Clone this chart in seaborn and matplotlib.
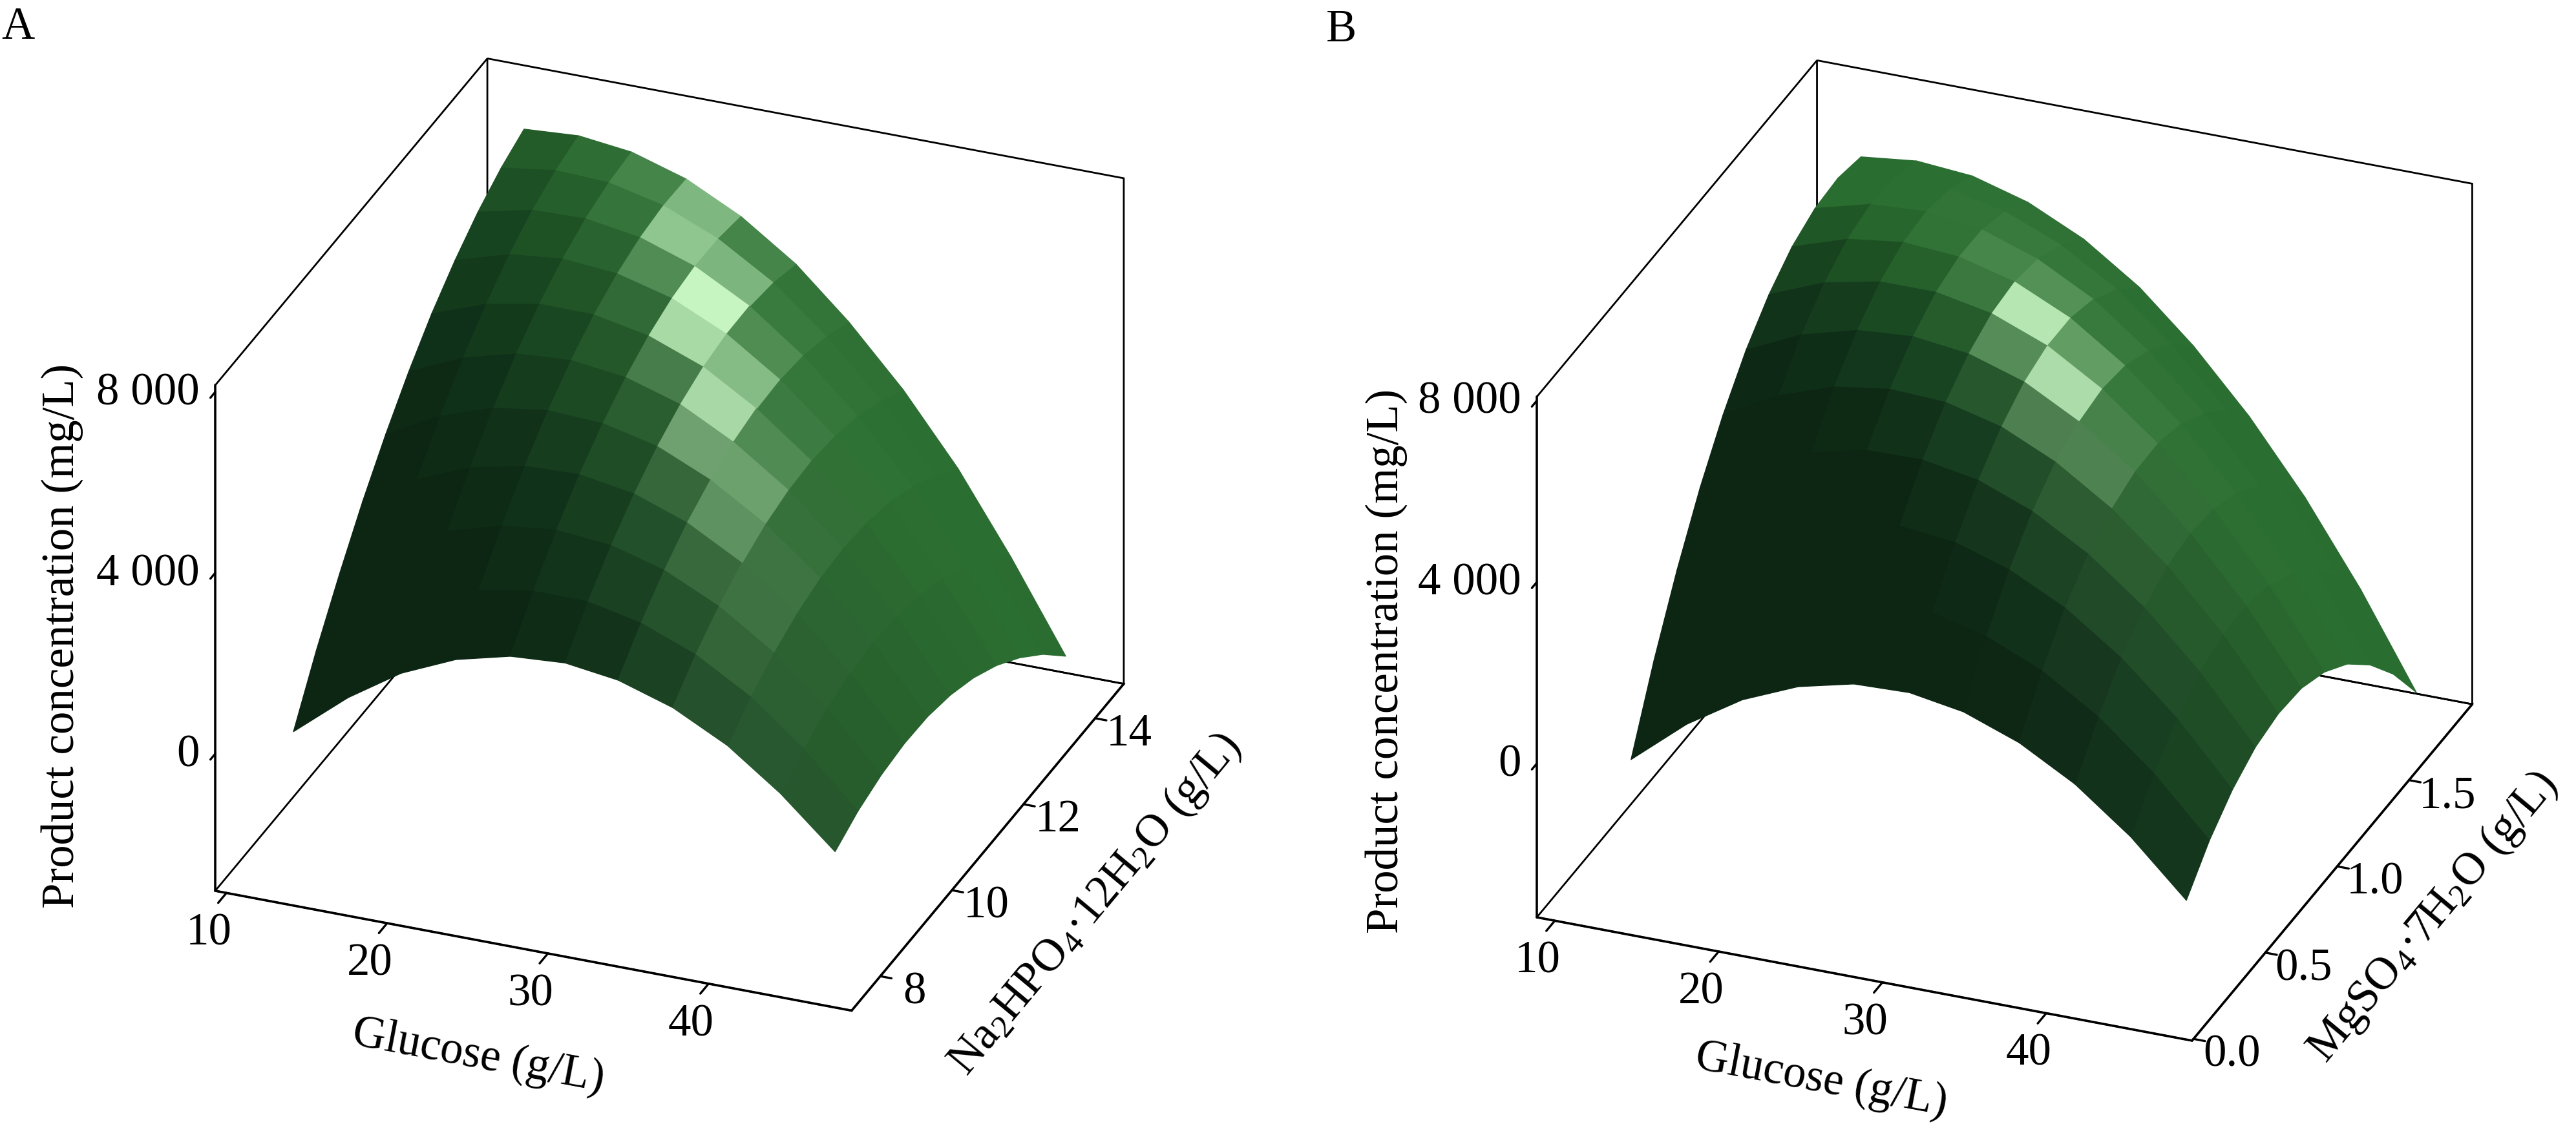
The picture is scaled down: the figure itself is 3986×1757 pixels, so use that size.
import numpy as np
import matplotlib
matplotlib.use("Agg")
import matplotlib.pyplot as plt
import seaborn as sns

# A: glucose x Na2HPO4.12H2O
glucose_a = [12.7, 16.1, 19.4, 22.8, 26.2, 29.6, 32.9, 36.3, 39.7, 43.0, 46.4]
phosphate_a = [7.86, 8.50, 9.15, 9.79, 10.44, 11.08, 11.72, 12.37, 13.01, 13.66, 14.30]
# rows = phosphate level, columns = glucose level (mg/L)
product_a = [
    [90, 1070, 1830, 2360, 2660, 2740, 2580, 2200, 1590, 750, -310],
    [1280, 2170, 2840, 3280, 3490, 3480, 3230, 2760, 2060, 1130, -20],
    [2360, 3170, 3740, 4090, 4220, 4110, 3780, 3210, 2420, 1410, 160],
    [3340, 4060, 4540, 4800, 4840, 4640, 4220, 3560, 2680, 1580, 240],
    [4220, 4840, 5240, 5410, 5350, 5070, 4550, 3810, 2840, 1640, 220],
    [4990, 5520, 5830, 5910, 5760, 5390, 4780, 3950, 2890, 1600, 90],
    [5660, 6100, 6320, 6310, 6070, 5610, 4910, 3990, 2840, 1460, -140],
    [6220, 6580, 6700, 6600, 6280, 5720, 4940, 3920, 2680, 1220, -480],
    [6680, 6950, 6980, 6790, 6380, 5730, 4860, 3750, 2420, 870, -920],
    [7040, 7210, 7160, 6880, 6370, 5640, 4670, 3480, 2060, 410, -1460],
    [7290, 7370, 7230, 6860, 6260, 5440, 4380, 3100, 1590, -150, -2110],
]

# B: glucose x MgSO4.7H2O
glucose_b = [12.9, 16.3, 19.7, 23.1, 26.5, 29.9, 33.2, 36.6, 40.0, 43.4, 46.8]
mgso4_b = [0.19, 0.35, 0.51, 0.67, 0.83, 0.99, 1.15, 1.31, 1.47, 1.63, 1.79]
product_b = [
    [-400, 610, 1380, 1900, 2190, 2230, 2030, 1580, 900, -30, -1200],
    [1180, 2100, 2780, 3220, 3410, 3370, 3080, 2550, 1780, 760, -490],
    [2560, 3400, 3990, 4340, 4450, 4320, 3940, 3330, 2470, 1370, 20],
    [3760, 4510, 5010, 5280, 5300, 5080, 4620, 3910, 2970, 1780, 350],
    [4760, 5420, 5840, 6020, 5960, 5650, 5100, 4310, 3280, 2000, 480],
    [5580, 6150, 6480, 6570, 6420, 6030, 5390, 4510, 3390, 2030, 430],
    [6200, 6690, 6940, 6940, 6700, 6220, 5500, 4530, 3320, 1870, 180],
    [6640, 7040, 7200, 7110, 6790, 6220, 5410, 4360, 3060, 1530, -250],
    [6880, 7200, 7270, 7100, 6680, 6030, 5130, 3990, 2610, 990, -880],
    [6940, 7160, 7150, 6890, 6390, 5650, 4660, 3440, 1970, 260, -1690],
    [6800, 6940, 6840, 6490, 5910, 5080, 4010, 2690, 1140, -660, -2700],
]

glucose_ticks = [10, 20, 30, 40]
phosphate_ticks = [8, 10, 12, 14]
phosphate_tick_labels = ["8", "10", "12", "14"]
mgso4_ticks = [0.0, 0.5, 1.0, 1.5]
mgso4_tick_labels = ["0.0", "0.5", "1.0", "1.5"]
product_ticks = [0, 4000, 8000]
product_tick_labels = ["0", "4 000", "8 000"]

# --- look ---
sns.set_theme(style="white", rc={
    "text.color": "black", "axes.labelcolor": "black",
    "xtick.color": "black", "ytick.color": "black",
})
plt.rcParams["font.family"] = ["Liberation Serif", "DejaVu Serif"]
plt.rcParams["mathtext.fontset"] = "custom"
plt.rcParams["mathtext.rm"] = "Liberation Serif"
plt.rcParams["mathtext.it"] = "Liberation Serif:italic"

FS = 51
ELEV, AZIM = 28.4, -68.4
ASPECT = (1.0, 1.08, 0.84)
# dark -> mid green for the diffuse part, pale green for the glossy spot
body_cmap = sns.blend_palette(["#0c2613", "#11331a", "#184620", "#205826", "#2a6d30"], as_cmap=True)
gloss = np.array(matplotlib.colors.to_rgb("#c6f5c2"))


def unit(v):
    v = np.asarray(v, float)
    return v / np.linalg.norm(v)


def surface_colours(X, Y, Z, lims):
    # per-quad shading in box units
    P = np.stack([(v - lo) / (hi - lo) * a for v, (lo, hi), a in zip((X, Y, Z), lims, ASPECT)], axis=-1)
    d1 = P[1:, 1:] - P[:-1, :-1]
    d2 = P[:-1, 1:] - P[1:, :-1]
    n = np.cross(d1, d2)
    n[n[..., 2] < 0] *= -1
    n /= np.linalg.norm(n, axis=-1, keepdims=True)
    e, a = np.radians(ELEV), np.radians(AZIM)
    view = np.array([np.cos(e) * np.cos(a), np.cos(e) * np.sin(a), np.sin(e)])
    diffuse = np.clip(n @ unit([0.10, 0.80, 0.59]), 0, 1)
    half = unit(unit([0.25, 0.73, 0.63]) + view)
    nh = np.clip(n @ half, 0, 1)
    spec = 0.95 * nh ** 120 + 0.16 * nh ** 18
    body = body_cmap(np.clip(diffuse / 0.55, 0, 1))[..., :3]
    k = np.clip(spec, 0, 1)[..., None]
    rgb = body * (1 - k) + gloss * k
    cols = np.ones(Z.shape + (4,))
    cols[:-1, :-1, :3] = rgb
    return cols


def draw_panel(ax, gx, gy, z, lims, yticks):
    X, Y = np.meshgrid(np.asarray(gx, float), np.asarray(gy, float))
    Z = np.asarray(z, float)
    ax.plot_surface(X, Y, Z, facecolors=surface_colours(X, Y, Z, lims), shade=False,
                    rstride=1, cstride=1, linewidth=1.0, antialiased=True)
    ax.set_proj_type("ortho")
    ax.view_init(elev=ELEV, azim=AZIM)
    ax.set_box_aspect(ASPECT)
    ax.set_xlim(*lims[0])
    ax.set_ylim(*lims[1])
    ax.set_zlim(*lims[2])
    ax.set_facecolor("none")
    ax.grid(False)
    # tick marks from matplotlib, their texts are set upright by annotate()
    ax.set_xticks(glucose_ticks, [""] * len(glucose_ticks))
    ax.set_yticks(yticks, [""] * len(yticks))
    ax.set_zticks(product_ticks, [""] * len(product_ticks))
    ax.zaxis.set_ticks_position("lower")
    for axis, inward in ((ax.xaxis, 0.38), (ax.yaxis, 0.22), (ax.zaxis, 0.22)):
        axis.pane.fill = False
        axis.pane.set_edgecolor("black")
        axis.pane.set_alpha(1.0)
        axis.pane.set_linewidth(2.0)
        axis.line.set_linewidth(2.6)
        axis.line.set_color("black")
        axis._axinfo["tick"]["inward_factor"] = inward
        axis._axinfo["tick"]["outward_factor"] = 0.0
        axis._axinfo["tick"]["linewidth"] = {True: 2.4, False: 1.0}


def to_img(ax, pt):
    # data point -> figure pixel, y counted from the top
    M = ax.get_proj()
    H = ax.figure.canvas.get_width_height()[1]
    v = M @ np.array([pt[0], pt[1], pt[2], 1.0])
    d = ax.transData.transform((v[0] / v[3], v[1] / v[3]))
    return np.array([d[0], H - d[1]])


def place_box(ax, lims, target_lo, target_hi):
    # move/scale the square axes so two box corners land where they sit in the figure
    fig = ax.figure
    fig.canvas.draw()
    W, H = fig.canvas.get_width_height()
    p_lo = to_img(ax, [lims[0][0], lims[1][0], lims[2][0]])
    p_hi = to_img(ax, [lims[0][1], lims[1][1], lims[2][1]])
    t_lo, t_hi = np.array(target_lo, float), np.array(target_hi, float)
    bb = ax.get_position().transformed(fig.transFigure)
    scale = np.linalg.norm(t_hi - t_lo) / np.linalg.norm(p_hi - p_lo)
    u = (p_lo[0] - bb.x0) / bb.width
    v = ((H - p_lo[1]) - bb.y0) / bb.height
    w, h = bb.width * scale, bb.height * scale
    x0, y0 = t_lo[0] - u * w, (H - t_lo[1]) - v * h
    ax.set_position([x0 / W, y0 / H, w / W, h / H])


def put(fig, xy, s, **kw):
    W, H = fig.canvas.get_width_height()
    fig.text(xy[0] / W, 1 - xy[1] / H, s, fontsize=FS, **kw)


def annotate(ax, lims, yticks, ylabels, ylab_off, titles, title_xy):
    fig = ax.figure
    (x0, x1), (y0, y1), (z0, z1) = lims
    for t in glucose_ticks:
        put(fig, to_img(ax, (t, y0, z0)) + (-27, 63), str(t), ha="center", va="center")
    for t, lab in zip(yticks, ylabels):
        put(fig, to_img(ax, (x1, t, z0)) + ylab_off, lab, ha="center", va="center")
    for t, lab in zip(product_ticks, product_tick_labels):
        put(fig, to_img(ax, (x0, y0, t)) + (-24, 2), lab, ha="right", va="center")
    # axis titles turned along their axes
    dx = to_img(ax, (x1, y0, z0)) - to_img(ax, (x0, y0, z0))
    dy = to_img(ax, (x1, y1, z0)) - to_img(ax, (x1, y0, z0))
    rots = [-np.degrees(np.arctan2(dx[1], dx[0])), -np.degrees(np.arctan2(dy[1], dy[0])), 90]
    for s, xy, r in zip(titles, title_xy, rots):
        put(fig, xy, s, ha="center", va="center", rotation=r, rotation_mode="anchor")


W_PX, H_PX = 3986, 1757
fig = plt.figure(figsize=(W_PX / 100, H_PX / 100), dpi=100)
side = 0.42
ax_a = fig.add_axes([0.03, 0.05, side, side * W_PX / H_PX], projection="3d")
ax_b = fig.add_axes([0.53, 0.05, side, side * W_PX / H_PX], projection="3d")

lims_a = [(9.3, 48.9), (7.2, 14.8), (-3030, 8150)]
lims_b = [(8.9, 48.9), (-0.01, 1.94), (-3390, 8085)]

draw_panel(ax_a, glucose_a, phosphate_a, product_a, lims_a, phosphate_ticks)
draw_panel(ax_b, glucose_b, mgso4_b, product_b, lims_b, mgso4_ticks)

place_box(ax_a, lims_a, (333, 1379), (1735, 271))
place_box(ax_b, lims_b, (2378, 1420), (3822, 280))
fig.canvas.draw()

annotate(ax_a, lims_a, phosphate_ticks, phosphate_tick_labels, (53, 25),
         ["Glucose (g/L)", r"Na$_2$HPO$_4$·12H$_2$O (g/L)", "Product concentration (mg/L)"],
         [(740, 1635), (1695, 1400), (96, 984)])
annotate(ax_b, lims_b, mgso4_ticks, mgso4_tick_labels, (59, 25),
         ["Glucose (g/L)", r"MgSO$_4$·7H$_2$O (g/L)", "Product concentration (mg/L)"],
         [(2818, 1672), (3765, 1420), (2145, 1023)])

put(fig, (2, 10), "A", ha="left", va="top")
put(fig, (2052, 14), "B", ha="left", va="top")

fig.savefig("out.png", dpi=100)
